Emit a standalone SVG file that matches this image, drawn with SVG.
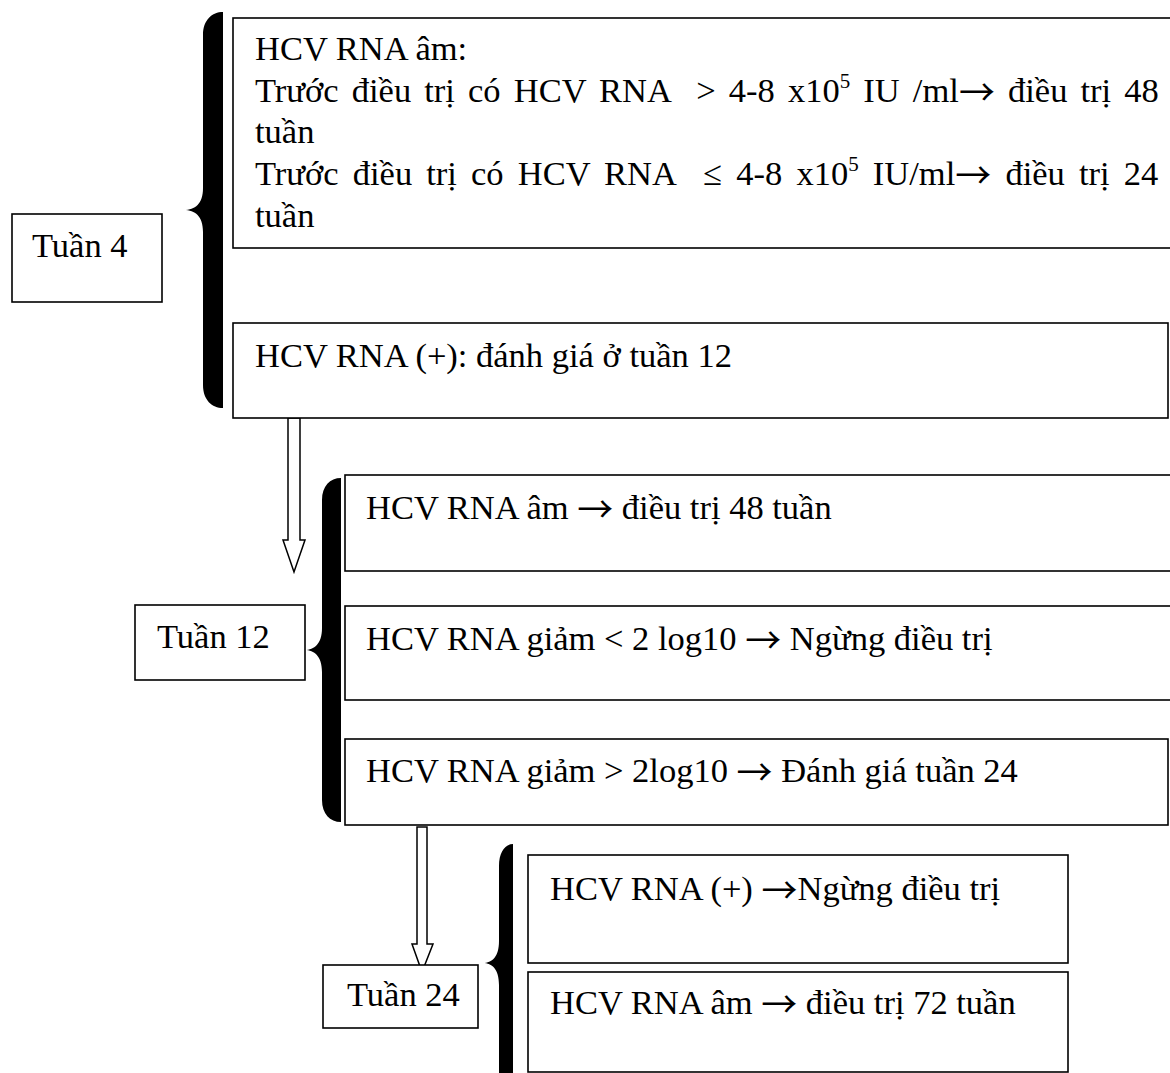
<svg xmlns="http://www.w3.org/2000/svg" width="1170" height="1073" viewBox="0 0 1170 1073">
<style>
  .box { fill: #fff; stroke: #000; stroke-width: 1.6; }
  .t { font-family: "Liberation Serif", "Times New Roman", serif; font-size: 34.5px; fill: #000; }
  .j { white-space: pre; }
  .ar { font-family: "Noto Sans CJK JP", "DejaVu Sans", sans-serif; font-size: 36px; }
  .brace { fill: #000; }
  .arr { fill: #fff; stroke: #000; stroke-width: 1.5; stroke-linejoin: miter; }
</style>
<rect x="0" y="0" width="1170" height="1073" fill="#fff"/>

<g id="connectors">
  <path class="brace" d="M223,12 L223,408 C212,408 203,400 203,385 L203,232 C203,216 195,210 184,210 C195,210 203,204 203,188 L203,35 C203,20 212,12 223,12 Z"/>
  <path class="brace" d="M341,478 L341,822 C330,822 322,814 322,800 L322,672 C322,656 314,650 305,650 C314,650 322,644 322,628 L322,500 C322,486 330,478 341,478 Z"/>
  <path class="brace" d="M513,844 L513,1090 L499,1090 L499,985 C499,969 492,963 483,963 C492,963 499,957 499,941 L499,866 C499,852 505,844 513,844 Z"/>
  <polygon class="arr" points="288,418 300,418 300,540 305,540 294,572 283,540 288,540"/>
  <polygon class="arr" points="417,827 427,827 427,944 433,944 422,972 412,944 417,944"/>
</g>

<g id="tuan4">
  <rect class="box" x="12" y="214" width="150" height="88"/>
  <text class="t" x="32" y="257">Tuần 4</text>
</g>

<g id="box-am">
  <rect class="box" x="233" y="18" width="960" height="230"/>
  <text class="t" x="255" y="60">HCV RNA âm:</text>
  <text class="t j" x="255" y="102" word-spacing="4.5">Trước điều trị có HCV RNA  &gt; 4-8 x10<tspan font-size="21" dy="-14">5</tspan><tspan dy="14"> IU /ml</tspan><tspan class="ar" dy="4">→</tspan><tspan dy="-4"> điều trị 48</tspan></text>
  <text class="t" x="255" y="143">tuần</text>
  <text class="t j" x="255" y="185" word-spacing="5.5">Trước điều trị có HCV RNA  ≤ 4-8 x10<tspan font-size="21" dy="-14">5</tspan><tspan dy="14"> IU/ml</tspan><tspan class="ar" dy="4">→</tspan><tspan dy="-4"> điều trị 24</tspan></text>
  <text class="t" x="255" y="227">tuần</text>
</g>

<g id="box-duong">
  <rect class="box" x="233" y="323" width="935" height="95"/>
  <text class="t" x="255" y="367">HCV RNA (+): đánh giá ở tuần 12</text>
</g>

<g id="tuan12">
  <rect class="box" x="135" y="605" width="170" height="75"/>
  <text class="t" x="157" y="648">Tuần 12</text>
</g>

<g id="box12-1">
  <rect class="box" x="345" y="475" width="840" height="96"/>
  <text class="t" x="366" y="519">HCV RNA âm <tspan class="ar" dy="4">→</tspan><tspan dy="-4"> điều trị 48 tuần</tspan></text>
</g>
<g id="box12-2">
  <rect class="box" x="345" y="606" width="840" height="94"/>
  <text class="t" x="366" y="650">HCV RNA giảm &lt; 2 log10 <tspan class="ar" dy="4">→</tspan><tspan dy="-4"> Ngừng điều trị</tspan></text>
</g>
<g id="box12-3">
  <rect class="box" x="345" y="739" width="823" height="86"/>
  <text class="t" x="366" y="782">HCV RNA giảm &gt; 2log10 <tspan class="ar" dy="4">→</tspan><tspan dy="-4"> Đánh giá tuần 24</tspan></text>
</g>

<g id="tuan24">
  <rect class="box" x="323" y="965" width="155" height="63"/>
  <text class="t" x="347" y="1006">Tuần 24</text>
</g>

<g id="box24-1">
  <rect class="box" x="528" y="855" width="540" height="108"/>
  <text class="t" x="550" y="900">HCV RNA (+) <tspan class="ar" dy="4">→</tspan><tspan dy="-4">Ngừng điều trị</tspan></text>
</g>
<g id="box24-2">
  <rect class="box" x="528" y="972" width="540" height="100"/>
  <text class="t" x="550" y="1014">HCV RNA âm <tspan class="ar" dy="4">→</tspan><tspan dy="-4"> điều trị 72 tuần</tspan></text>
</g>
</svg>
